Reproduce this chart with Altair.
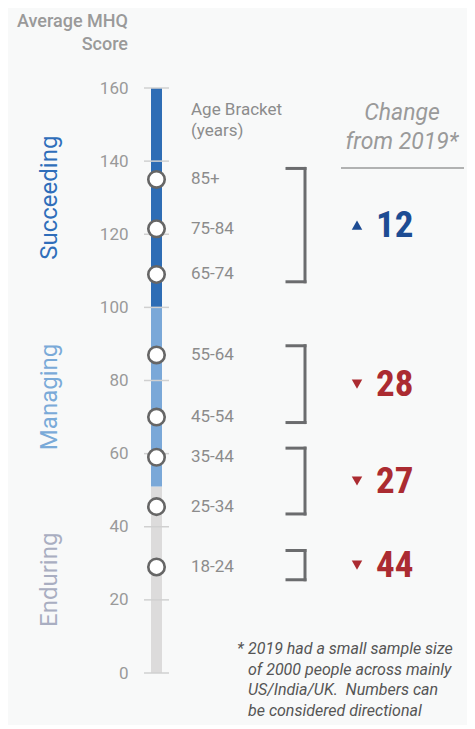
import altair as alt
import pandas as pd

# ---- data ----
tick_values = [0, 20, 40, 60, 80, 100, 120, 140, 160]

zone_names = ["Enduring", "Managing", "Succeeding"]
zone_start = [0, 51, 100]
zone_end = [51, 100, 160]
zone_bar_colors = ["#dcdbdb", "#7aa8d8", "#2e6db5"]
zone_label_colors = ["#a9aec1", "#7aaad8", "#2f6eba"]

age_brackets = ["85+", "75-84", "65-74", "55-64", "45-54", "35-44", "25-34", "18-24"]
mhq_scores = [135, 121.5, 109, 87, 70, 59, 45.5, 29]

bracket_top = [138, 89.5, 61.5, 33.5]
bracket_bottom = [107, 68.5, 43.5, 25.5]
change_values = [12, 28, 27, 44]
change_direction = ["up", "down", "down", "down"]

footnote_lines = [
    "2019 had a small sample size",
    "of 2000 people across mainly",
    "US/India/UK.\u00a0 Numbers can",
    "be considered directional",
]

FONT = "Roboto"
ysc = alt.Scale(domain=[0, 160], nice=False)

zones = pd.DataFrame({
    "zone": zone_names, "start": zone_start, "end": zone_end,
    "bar_color": zone_bar_colors, "label_color": zone_label_colors,
})
zones["mid"] = (zones["start"] + zones["end"]) / 2
ticks = pd.DataFrame({"v": tick_values})
ages = pd.DataFrame({"age": age_brackets, "score": mhq_scores})
br = pd.DataFrame({"top": bracket_top, "bottom": bracket_bottom,
                   "change": change_values, "dir": change_direction})
br["mid"] = (br["top"] + br["bottom"]) / 2
one = pd.DataFrame({"a": [0]})

bars = alt.Chart(zones).mark_rect().encode(
    x=alt.value(7), x2=alt.value(18),
    y=alt.Y("start:Q", scale=ysc, axis=alt.Axis(
        values=tick_values, ticks=False, domain=False, grid=False, title=None,
        labelPadding=16, labelFontSize=17, labelColor="#9a9a9a", labelFont=FONT)),
    y2="end:Q",
    color=alt.Color("bar_color:N", scale=None),
)

tick_rules = alt.Chart(ticks).mark_rule(color="#d0d0d0", strokeWidth=1.5).encode(
    x=alt.value(0), x2=alt.value(25), y=alt.Y("v:Q", scale=ysc),
)

circles = alt.Chart(ages).mark_point(
    shape="circle", filled=True, fill="white", stroke="#666666",
    strokeWidth=2.6, size=270, opacity=1,
).encode(x=alt.value(12.5), y=alt.Y("score:Q", scale=ysc))

age_text = alt.Chart(ages).mark_text(
    align="left", baseline="middle", font=FONT, fontSize=17, color="#8c8c8c",
).encode(x=alt.value(47), y=alt.Y("score:Q", scale=ysc), text="age:N")

zone_text = alt.Chart(zones).mark_text(
    angle=270, align="center", baseline="middle", font=FONT, fontSize=24,
).encode(x=alt.value(-94), y=alt.Y("mid:Q", scale=ysc), text="zone:N",
         color=alt.Color("label_color:N", scale=None))

bcolor = "#6b6c6e"
br_vert = alt.Chart(br).mark_rule(color=bcolor, strokeWidth=3, strokeCap="square").encode(
    x=alt.value(161), y=alt.Y("top:Q", scale=ysc), y2="bottom:Q")
br_top = alt.Chart(br).mark_rule(color=bcolor, strokeWidth=3, strokeCap="square").encode(
    x=alt.value(143), x2=alt.value(161), y=alt.Y("top:Q", scale=ysc))
br_bot = alt.Chart(br).mark_rule(color=bcolor, strokeWidth=3, strokeCap="square").encode(
    x=alt.value(143), x2=alt.value(161), y=alt.Y("bottom:Q", scale=ysc))

dir_shape = alt.Scale(domain=["up", "down"], range=["triangle-up", "triangle-down"])
dir_color = alt.Scale(domain=["up", "down"], range=["#1d4c93", "#ab2b31"])
num_color = alt.Scale(domain=["up", "down"], range=["#1d4c93", "#b8403d"])

tri = alt.Chart(br).mark_point(filled=True, size=110, opacity=1).encode(
    x=alt.value(213), y=alt.Y("mid:Q", scale=ysc),
    shape=alt.Shape("dir:N", scale=dir_shape, legend=None),
    color=alt.Color("dir:N", scale=dir_color, legend=None),
)
nums = alt.Chart(br).mark_text(
    align="left", baseline="middle",
    font="Noto Sans Condensed, Roboto Condensed, Liberation Sans Narrow, Roboto",
    fontWeight="bold", fontSize=37, dy=1,
).encode(x=alt.value(232), y=alt.Y("mid:Q", scale=ysc), text="change:Q",
         color=alt.Color("dir:N", scale=num_color, legend=None))


def label(text, x, y, align="left", size=17, color="#8c8c8c", **kw):
    return alt.Chart(one).mark_text(
        text=text, align=align, baseline="middle", font=FONT,
        fontSize=size, color=color, **kw,
    ).encode(x=alt.value(x), y=alt.value(y))


title1 = label("Average MHQ", -16, -66, align="right", size=18, color="#9a9a9a", fontWeight=500)
title2 = label("Score", -16, -43, align="right", size=18, color="#9a9a9a", fontWeight=500)
age_h1 = label("Age Bracket", 47, 22, size=17)
age_h2 = label("(years)", 47, 43, size=17)
chg_h1 = label("Change", 258, 25, align="center", size=23, color="#9a9a9a", fontStyle="italic")
chg_h2 = label("from 2019*", 258, 54, align="center", size=23, color="#9a9a9a", fontStyle="italic")
sep = alt.Chart(one).mark_rule(color="#9a9a9a", strokeWidth=1.5).encode(
    x=alt.value(197), x2=alt.value(320), y=alt.value(80))

star = label("*", 93, 561, size=16, color="#555555", fontStyle="italic")
foot = [label(t, 104, 561 + i * 20.6, size=16, color="#555555", fontStyle="italic")
        for i, t in enumerate(footnote_lines)]

chart = alt.layer(
    bars, tick_rules, circles, age_text, zone_text,
    br_vert, br_top, br_bot, tri, nums,
    title1, title2, age_h1, age_h2, chg_h1, chg_h2, sep, star, *foot,
).properties(
    width=323, height=585,
    autosize=alt.AutoSizeParams(type="none"),
    padding={"left": 136, "top": 80, "right": 0, "bottom": 52},
    background="#f8f9f9",
).configure_view(stroke=None)

chart.save("out.html", embed_options={"renderer": "svg", "actions": False})
